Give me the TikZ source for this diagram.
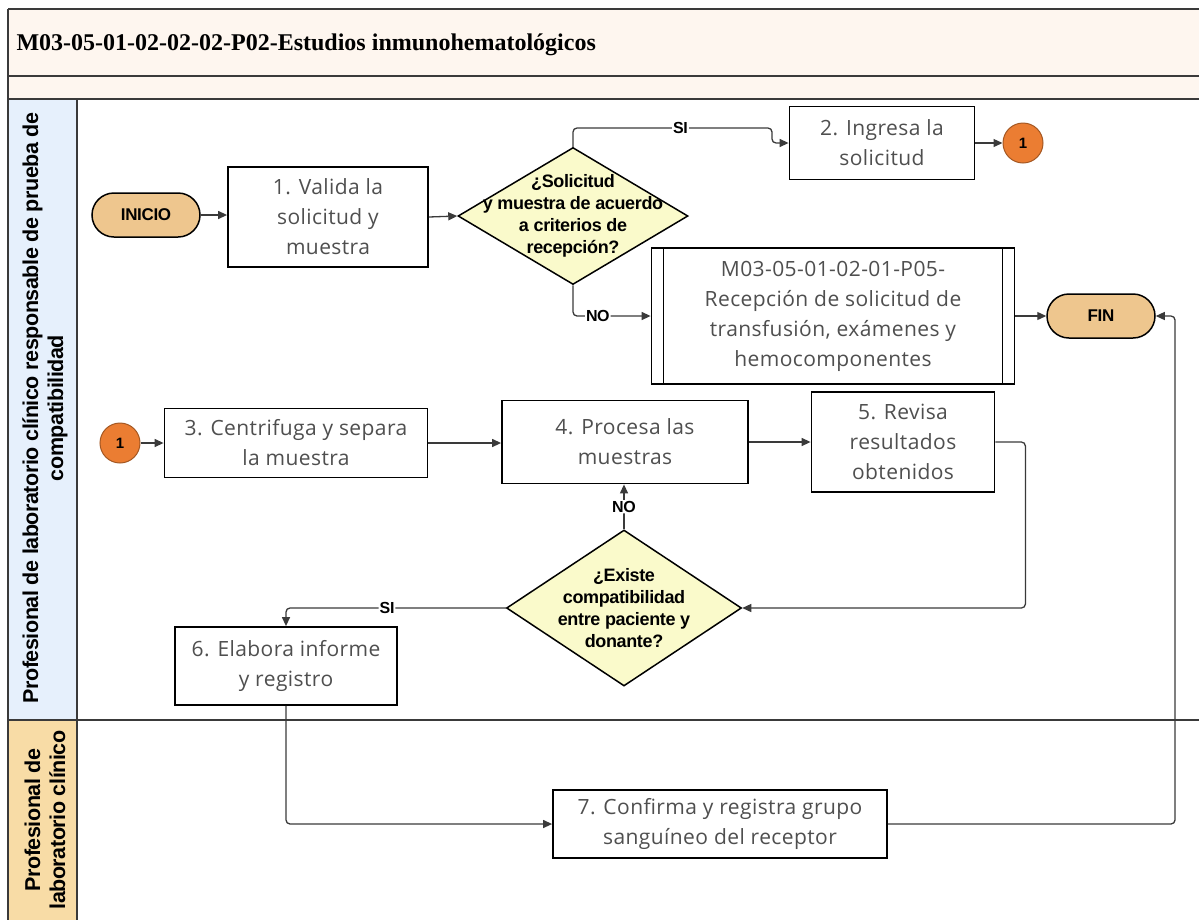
\documentclass[tikz,border=0pt]{standalone}
\usepackage{fontspec}
\setmainfont[LetterSpace=2]{Open Sans}
\newfontfamily\titlefont{Liberation Serif}
\newfontfamily\condfont[LetterSpace=-2]{Liberation Sans}
\usetikzlibrary{arrows.meta,shapes.geometric}
\definecolor{titlebg}{HTML}{FEF6EF}
\definecolor{laneblue}{HTML}{E6F0FC}
\definecolor{lanetan}{HTML}{F8DCA6}
\definecolor{termfill}{HTML}{EEC68E}
\definecolor{linkfill}{HTML}{EB7D32}
\definecolor{decfill}{HTML}{FAFACB}
\definecolor{boxtext}{HTML}{4F4F4F}
\definecolor{wire}{HTML}{3A3A3A}
\begin{document}
\begin{tikzpicture}[x=1pt, y=-1pt,
  proc/.style={draw, line width=1.8pt, fill=white, inner sep=0pt, align=center, text=boxtext, font=\fontsize{21}{30}\selectfont},
  term/.style={draw, line width=1.5pt, fill=termfill, rounded corners=22pt, minimum width=108pt, minimum height=44pt, font=\condfont\bfseries\fontsize{17}{20}\selectfont},
  link/.style={circle, draw=linkfill!70!black, line width=1pt, fill=linkfill, minimum size=40pt, inner sep=0pt, font=\condfont\bfseries\fontsize{15}{16}\selectfont},
  decision/.style={diamond, draw, line width=1.5pt, fill=decfill, inner sep=0pt},
  dtext/.style={align=center, font=\condfont\bfseries\fontsize{18}{22}\selectfont},
  tag/.style={fill=white, inner sep=1pt, font=\condfont\bfseries\fontsize{16}{18}\selectfont},
  flow/.style={draw=wire, line width=1.3pt, -{Triangle[length=9pt,width=8pt]}, rounded corners=4pt},
  lane/.style={rotate=90, align=center, font=\condfont\bfseries\fontsize{21.5}{25}\selectfont}]
  \useasboundingbox (0,0) rectangle (1199,919);
  \clip (0,0) rectangle (1199,919);
  \fill[titlebg] (8,9) rectangle (1230,99);
  \fill[laneblue] (8,99) rectangle (77,720);
  \fill[lanetan] (8,720) rectangle (77,960);
  \draw[line width=2pt, wire] (8,9) -- (1230,9) (8,76) -- (1230,76) (8,99) -- (1230,99)
    (8,9) -- (8,960) (77,99) -- (77,960) (8,720) -- (1230,720);
  \node[anchor=west, font=\titlefont\bfseries\fontsize{24}{28}\selectfont] (title) at (13,45) {M03-05-01-02-02-02-P02-Estudios inmunohematológicos};
  \node[lane] (lane1) at (45,408) {Profesional de laboratorio clínico responsable de prueba de\\compatibilidad};
  \node[lane] (lane2) at (45,820) {Profesional de\\laboratorio clínico};

  \node[term] (ini) at (146,215) {INICIO};
  \node[proc, minimum width=200pt, minimum height=100pt] (b1) at (328,217) {1. Valida la\\solicitud y\\muestra};
  \node[decision, minimum width=230pt, minimum height=137pt] (d1) at (573,216) {};
  \node[dtext] (d1t) at (d1) {¿Solicitud\\y muestra de acuerdo\\a criterios de\\recepción?};
  \node[proc, minimum width=185pt, minimum height=73pt] (b2) at (882,143) {2. Ingresa la\\solicitud};
  \node[link] (c1) at (1023,143) {1};
  \node[proc, minimum width=363pt, minimum height=136pt] (p05) at (833,316) {M03-05-01-02-01-P05-\\Recepción de solicitud de\\transfusión, exámenes y\\hemocomponentes};
  \draw[line width=1.5pt] ([xshift=13pt]p05.north west) -- ([xshift=13pt]p05.south west)
    ([xshift=-13pt]p05.north east) -- ([xshift=-13pt]p05.south east);
  \node[term] (fin) at (1101,316) {FIN};
  \node[link] (c2) at (120,443) {1};
  \node[proc, minimum width=263pt, minimum height=69pt] (b3) at (296,443) {3. Centrifuga y separa\\la muestra};
  \node[proc, minimum width=246pt, minimum height=83pt] (b4) at (625,442) {4. Procesa las\\muestras};
  \node[proc, minimum width=183pt, minimum height=100pt] (b5) at (903,442) {5. Revisa\\resultados\\obtenidos};
  \node[decision, minimum width=235pt, minimum height=156pt] (d2) at (624,608) {};
  \node[dtext] (d2t) at (d2) {¿Existe\\compatibilidad\\entre paciente y\\donante?};
  \node[proc, minimum width=222pt, minimum height=78pt] (b6) at (286,666) {6. Elabora informe\\y registro};
  \node[proc, minimum width=334pt, minimum height=68pt] (b7) at (720,824) {7. Confirma y registra grupo\\sanguíneo del receptor};

  \coordinate (sij) at (772,128);
  \coordinate (b5r) at ([xshift=30pt]b5.east);
  \coordinate (back) at (1175,824);
  \draw[flow] (ini.east) -- (ini.east -| b1.west);
  \draw[flow] (b1.east) -- (d1.west);
  \draw[flow] (d1.north) |- node[tag, pos=0.77] {SI} (sij) -- (sij |- b2.west) -- (b2.west);
  \draw[flow] (b2) -- (c1);
  \draw[flow] (d1.south) |- node[tag, pos=0.66] {NO} (p05.west);
  \draw[flow] (p05) -- (fin);
  \draw[flow] (c2) -- (b3);
  \draw[flow] (b3.east) -- (b3.east -| b4.west);
  \draw[flow] (b4) -- (b5);
  \draw[flow] (b5.east) -- (b5r) |- (d2.east);
  \draw[flow] (d2.north) -- node[tag] {NO} (d2.north |- b4.south);
  \draw[flow] (d2.west) -| node[tag, pos=0.27] {SI} (b6.north);
  \draw[flow] (b6.south) |- (b7.west);
  \draw[flow] (b7.east) -- (back) |- (fin.east);
\end{tikzpicture}
\end{document}
